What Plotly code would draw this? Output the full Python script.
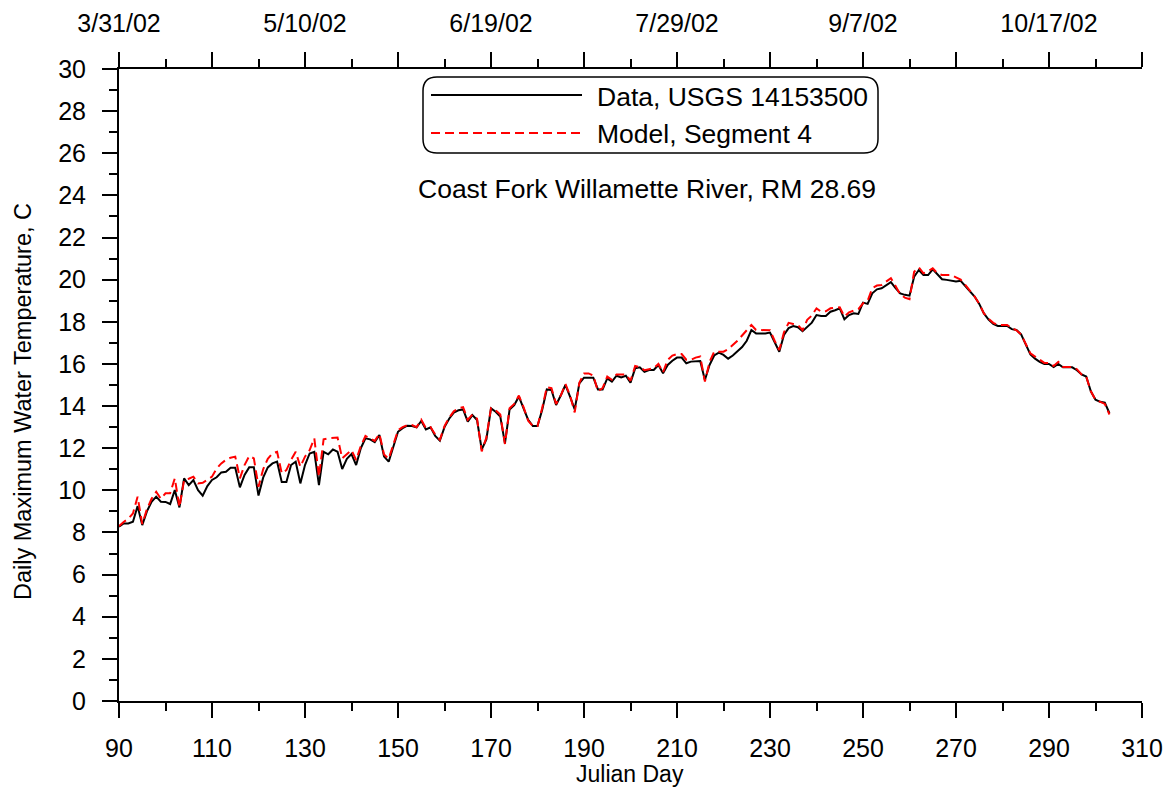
import plotly.graph_objects as go

# ---------------- data ----------------
days = list(range(90, 304))

data_usgs = [
    8.27, 8.43, 8.43, 8.51, 9.25, 8.35, 9.00, 9.45, 9.70, 9.46,   # 90-99
    9.45, 9.35, 10.01, 9.19, 10.57, 10.25, 10.49, 10.01, 9.75, 10.20,  # 100-109
    10.49, 10.62, 10.85, 10.88, 11.07, 11.07, 10.14, 10.73, 11.09, 11.09,  # 110-119
    9.75, 10.60, 11.09, 11.28, 11.36, 10.39, 10.39, 11.20, 11.36, 10.33,  # 120-129
    11.20, 11.75, 11.83, 10.25, 11.83, 11.71, 11.94, 11.83, 11.01, 11.50,  # 130-139
    11.72, 11.20, 12.00, 12.47, 12.42, 12.29, 12.63, 11.60, 11.36, 12.10,  # 140-149
    12.78, 12.95, 13.07, 13.05, 12.99, 13.29, 12.89, 12.99, 12.58, 12.36,  # 150-159
    13.00, 13.40, 13.69, 13.80, 13.84, 13.26, 13.57, 13.34, 11.94, 12.42,  # 160-169
    13.89, 13.73, 13.50, 12.23, 13.84, 14.05, 14.45, 13.89, 13.34, 13.05,  # 170-179
    13.05, 13.81, 14.79, 14.76, 14.05, 14.50, 15.00, 14.45, 13.84, 15.08,  # 180-189
    15.35, 15.35, 15.35, 14.79, 14.79, 15.31, 15.16, 15.44, 15.36, 15.44,  # 190-199
    15.11, 15.79, 15.84, 15.63, 15.71, 15.71, 15.95, 15.56, 15.95, 16.15,  # 200-209
    16.30, 16.30, 16.03, 16.11, 16.12, 16.14, 15.24, 15.95, 16.40, 16.54,  # 210-219
    16.43, 16.25, 16.40, 16.60, 16.80, 17.10, 17.61, 17.45, 17.45, 17.45,  # 220-229
    17.49, 17.00, 16.58, 17.38, 17.70, 17.80, 17.74, 17.55, 17.77, 17.96,  # 230-239
    18.32, 18.28, 18.28, 18.48, 18.55, 18.64, 18.12, 18.32, 18.40, 18.37,  # 240-249
    18.91, 18.85, 19.35, 19.54, 19.59, 19.75, 19.88, 19.60, 19.35, 19.28,  # 250-259
    19.24, 20.14, 20.46, 20.22, 20.22, 20.49, 20.25, 20.02, 19.99, 19.95,  # 260-269
    19.91, 19.95, 19.70, 19.50, 19.20, 18.85, 18.40, 18.10, 17.90, 17.80,  # 270-279
    17.80, 17.80, 17.65, 17.61, 17.40, 16.95, 16.45, 16.25, 16.10, 16.00,  # 280-289
    16.00, 15.85, 16.00, 15.84, 15.84, 15.84, 15.70, 15.50, 15.40, 14.70,  # 290-299
    14.30, 14.20, 14.16, 13.66,                                            # 300-303
]

model_seg4 = [
    8.30, 8.50, 8.65, 8.90, 9.70, 8.40, 9.10, 9.60, 9.93, 9.60,   # 90-99
    9.86, 9.86, 10.57, 9.20, 10.49, 10.55, 10.65, 10.33, 10.36, 10.50,  # 100-109
    10.65, 11.04, 11.28, 11.45, 11.55, 11.60, 10.57, 11.20, 11.63, 11.52,  # 110-119
    10.17, 11.00, 11.50, 11.75, 11.83, 10.81, 10.96, 11.44, 11.83, 11.12,  # 120-129
    11.60, 11.91, 12.47, 10.65, 12.42, 12.47, 12.50, 12.51, 11.52, 11.70,  # 130-139
    11.91, 11.44, 12.10, 12.58, 12.45, 12.35, 12.68, 11.70, 11.50, 12.20,  # 140-149
    12.85, 13.00, 13.10, 13.10, 13.00, 13.35, 12.95, 13.00, 12.65, 12.40,  # 150-159
    13.05, 13.45, 13.75, 13.90, 13.95, 13.35, 13.60, 13.40, 11.85, 12.50,  # 160-169
    13.90, 13.80, 13.60, 12.20, 13.90, 14.10, 14.50, 13.95, 13.30, 13.05,  # 170-179
    13.05, 13.90, 14.90, 14.85, 14.10, 14.50, 15.05, 14.50, 13.70, 15.10,  # 180-189
    15.55, 15.55, 15.45, 14.70, 14.85, 15.40, 15.25, 15.50, 15.50, 15.50,  # 190-199
    15.20, 15.90, 15.85, 15.70, 15.75, 15.80, 16.00, 15.60, 16.19, 16.40,  # 200-209
    16.47, 16.47, 16.20, 16.20, 16.30, 16.35, 15.16, 16.10, 16.58, 16.58,  # 210-219
    16.58, 16.70, 16.90, 17.10, 17.35, 17.60, 17.85, 17.61, 17.61, 17.61,  # 220-229
    17.60, 17.10, 16.66, 17.50, 17.95, 17.90, 17.85, 17.60, 18.09, 18.30,  # 230-239
    18.64, 18.48, 18.50, 18.64, 18.66, 18.69, 18.25, 18.45, 18.53, 18.60,  # 240-249
    18.88, 19.00, 19.60, 19.72, 19.75, 19.90, 20.07, 19.70, 19.30, 19.15,  # 250-259
    19.07, 20.38, 20.59, 20.30, 20.40, 20.54, 20.30, 20.22, 20.22, 20.22,  # 260-269
    20.11, 20.00, 19.75, 19.50, 19.20, 18.85, 18.40, 18.15, 17.95, 17.85,  # 270-279
    17.85, 17.85, 17.70, 17.60, 17.40, 16.95, 16.50, 16.35, 16.20, 16.05,  # 280-289
    16.05, 15.90, 16.10, 15.85, 15.85, 15.85, 15.75, 15.50, 15.40, 14.70,  # 290-299
    14.30, 14.20, 14.10, 13.60,                                            # 300-303
]

series_names = ["Data, USGS 14153500", "Model, Segment 4"]
title_text = "Coast Fork Willamette River, RM 28.69"
x_title = "Julian Day"
y_title = "Daily Maximum Water Temperature, C"

bottom_tickvals = list(range(90, 311, 20))
top_tickvals = list(range(90, 311, 20))
top_ticktext = ["3/31/02", "", "5/10/02", "", "6/19/02", "", "7/29/02", "",
                "9/7/02", "", "10/17/02", ""]
y_tickvals = list(range(0, 31, 2))

# ---------------- figure ----------------
FONT = "Liberation Sans, Arial, sans-serif"
# the page body adds an 8 px margin, so the figure is sized/placed to fit
W, H = 1166, 783
ML, MR, MT, MB = 111, 32, 61, 90
PW, PH = W - ML - MR, H - MT - MB
OFF = 8  # page offset of the figure

def px_x(p):
    return (p - OFF - ML) / PW

def px_y(p):
    return (H - MB - (p - OFF)) / PH

fig = go.Figure()
fig.add_trace(go.Scatter(
    x=days, y=data_usgs, mode="lines", name=series_names[0],
    line=dict(color="black", width=2), showlegend=False))
fig.add_trace(go.Scatter(
    x=days, y=model_seg4, mode="lines", name=series_names[1],
    line=dict(color="#ff0000", width=2, dash="9px,5px"), showlegend=False))

axis_common = dict(
    showgrid=False, zeroline=False, showline=True, linecolor="black",
    linewidth=2, ticks="outside", tickwidth=2, tickcolor="black",
    ticklen=15, automargin=False,
    tickfont=dict(family=FONT, size=25, color="black"),
)

fig.update_layout(
    width=W, height=H,
    margin=dict(l=ML, r=MR, t=MT, b=MB),
    paper_bgcolor="white", plot_bgcolor="white",
    font=dict(family=FONT, color="black"),
    xaxis=dict(
        range=[90, 310], tickmode="array", tickvals=bottom_tickvals,
        minor=dict(dtick=10, tick0=90, ticks="outside", ticklen=8,
                   tickwidth=2, tickcolor="black"),
        ticklabelstandoff=9,
        **axis_common),
    xaxis2=dict(
        range=[90, 310], overlaying="x", side="top", anchor="y",
        tickmode="array", tickvals=top_tickvals, ticktext=top_ticktext,
        minor=dict(dtick=10, tick0=90, ticks="outside", ticklen=8,
                   tickwidth=2, tickcolor="black"),
        ticklabelstandoff=10,
        **axis_common),
    yaxis=dict(
        range=[0, 30], tickmode="array", tickvals=y_tickvals,
        minor=dict(dtick=1, tick0=0, ticks="outside", ticklen=8,
                   tickwidth=2, tickcolor="black"),
        ticklabelstandoff=11,
        **axis_common),
)

# invisible trace to anchor the top axis
fig.add_trace(go.Scatter(x=[90, 310], y=[None, None], xaxis="x2", yaxis="y",
                         mode="lines", showlegend=False, hoverinfo="skip"))

# axis titles
fig.add_annotation(text=x_title, xref="paper", yref="paper",
                   x=px_x(630), y=px_y(774), xanchor="center", yanchor="middle",
                   showarrow=False, font=dict(family=FONT, size=23, color="black"))
fig.add_annotation(text=y_title, xref="paper", yref="paper", textangle=-90,
                   x=px_x(23), y=px_y(402), xanchor="center", yanchor="middle",
                   showarrow=False, font=dict(family=FONT, size=23.5, color="black"))

# rounded legend box
x0, x1 = px_x(423), px_x(878)
y0, y1 = px_y(153), px_y(77)
r = 14
rx, ry = r / PW, r / PH
path = (f"M {x0+rx},{y1} L {x1-rx},{y1} Q {x1},{y1} {x1},{y1-ry} "
        f"L {x1},{y0+ry} Q {x1},{y0} {x1-rx},{y0} "
        f"L {x0+rx},{y0} Q {x0},{y0} {x0},{y0+ry} "
        f"L {x0},{y1-ry} Q {x0},{y1} {x0+rx},{y1} Z")
fig.add_shape(type="path", path=path, xref="paper", yref="paper",
              line=dict(color="black", width=1.5), fillcolor="white", layer="below")

# legend samples
fig.add_shape(type="line", xref="paper", yref="paper",
              x0=px_x(431), x1=px_x(582), y0=px_y(95), y1=px_y(95),
              line=dict(color="black", width=2))
fig.add_shape(type="line", xref="paper", yref="paper",
              x0=px_x(431), x1=px_x(582), y0=px_y(133), y1=px_y(133),
              line=dict(color="#ff0000", width=2, dash="9px,5px"))
fig.add_annotation(text=series_names[0], xref="paper", yref="paper",
                   x=px_x(595), y=px_y(97), xanchor="left", yanchor="middle",
                   showarrow=False, font=dict(family=FONT, size=26.5, color="black"))
fig.add_annotation(text=series_names[1], xref="paper", yref="paper",
                   x=px_x(595), y=px_y(134), xanchor="left", yanchor="middle",
                   showarrow=False, font=dict(family=FONT, size=26.5, color="black"))
fig.add_annotation(text=title_text, xref="paper", yref="paper",
                   x=px_x(647), y=px_y(189), xanchor="center", yanchor="middle",
                   showarrow=False, font=dict(family=FONT, size=26.5, color="black"))

fig.write_html("out.html")
